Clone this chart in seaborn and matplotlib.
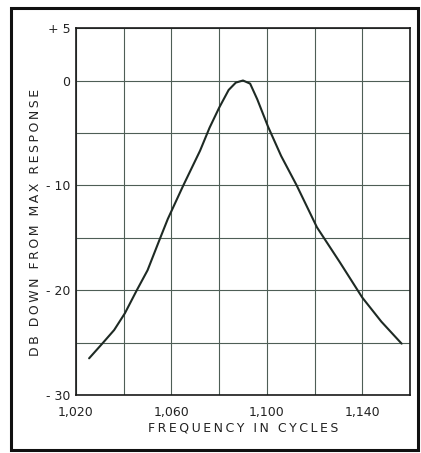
import numpy as np
import pandas as pd
import seaborn as sns
import matplotlib.pyplot as plt
from matplotlib.patches import Rectangle

# %% data
freq = [1025.5, 1031, 1036, 1040.5, 1045.5, 1050, 1055, 1058.5, 1065, 1072,
        1076, 1080, 1084, 1087, 1090, 1093, 1096, 1100.5, 1106, 1112.5,
        1121, 1130.5, 1140, 1148, 1156.5]
db_down = [-26.5, -25.1, -23.8, -22.2, -20.0, -18.1, -15.2, -13.2, -10.0, -6.7,
           -4.5, -2.6, -0.9, -0.2, 0.0, -0.3, -1.8, -4.4, -7.2, -10.0,
           -14.0, -17.3, -20.7, -23.0, -25.1]

x_ticks = [1020, 1060, 1100, 1140]
x_labels = ["1,020", "1,060", "1,100", "1,140"]
y_ticks = [5, 0, -10, -20, -30]
y_labels = ["+ 5", "0", "- 10", "- 20", "- 30"]

df = pd.DataFrame({"freq": freq, "db": db_down})


def spaced(txt):
    # old drafting lettering is widely spaced
    return "\u2009".join(txt)


# %% plot
sns.set_style("white")
plt.rcParams["font.family"] = ["DejaVu Sans"]

fig = plt.figure(figsize=(4.21, 4.53), dpi=100)
ax = fig.add_axes([0.1805, 0.128, 0.7933, 0.810])

sns.lineplot(data=df, x="freq", y="db", ax=ax, color="#1e2a24", linewidth=1.5)

ax.set_xlim(1020, 1160)
ax.set_ylim(-30, 5)
ax.set_xticks(np.arange(1020, 1161, 20), minor=True)
ax.set_yticks(np.arange(-30, 6, 5), minor=True)
ax.set_xticks(x_ticks)
ax.set_xticklabels(x_labels)
ax.set_yticks(y_ticks)
ax.set_yticklabels(y_labels)
ax.grid(which="both", color="#4e5e56", linewidth=0.8)
ax.tick_params(which="both", length=0, labelsize=9, colors="#222222")
ax.tick_params(axis="x", pad=8)
ax.tick_params(axis="y", pad=4)

for s in ax.spines.values():
    s.set_color("#1a1a1a")
    s.set_linewidth(1.2)

ax.set_xlabel(spaced("FREQUENCY IN CYCLES"), fontsize=9, color="#222222", labelpad=2)
ax.set_ylabel(spaced("DB DOWN FROM MAX RESPONSE"), fontsize=9, color="#222222")
ax.yaxis.set_label_coords(-0.103, 0.47)

# outer frame round the figure
fig.patches.append(Rectangle((0.026, 0.006), 0.966, 0.976, transform=fig.transFigure,
                             fill=False, edgecolor="#111111", linewidth=2.2))

fig.savefig("out.png", dpi=100)
